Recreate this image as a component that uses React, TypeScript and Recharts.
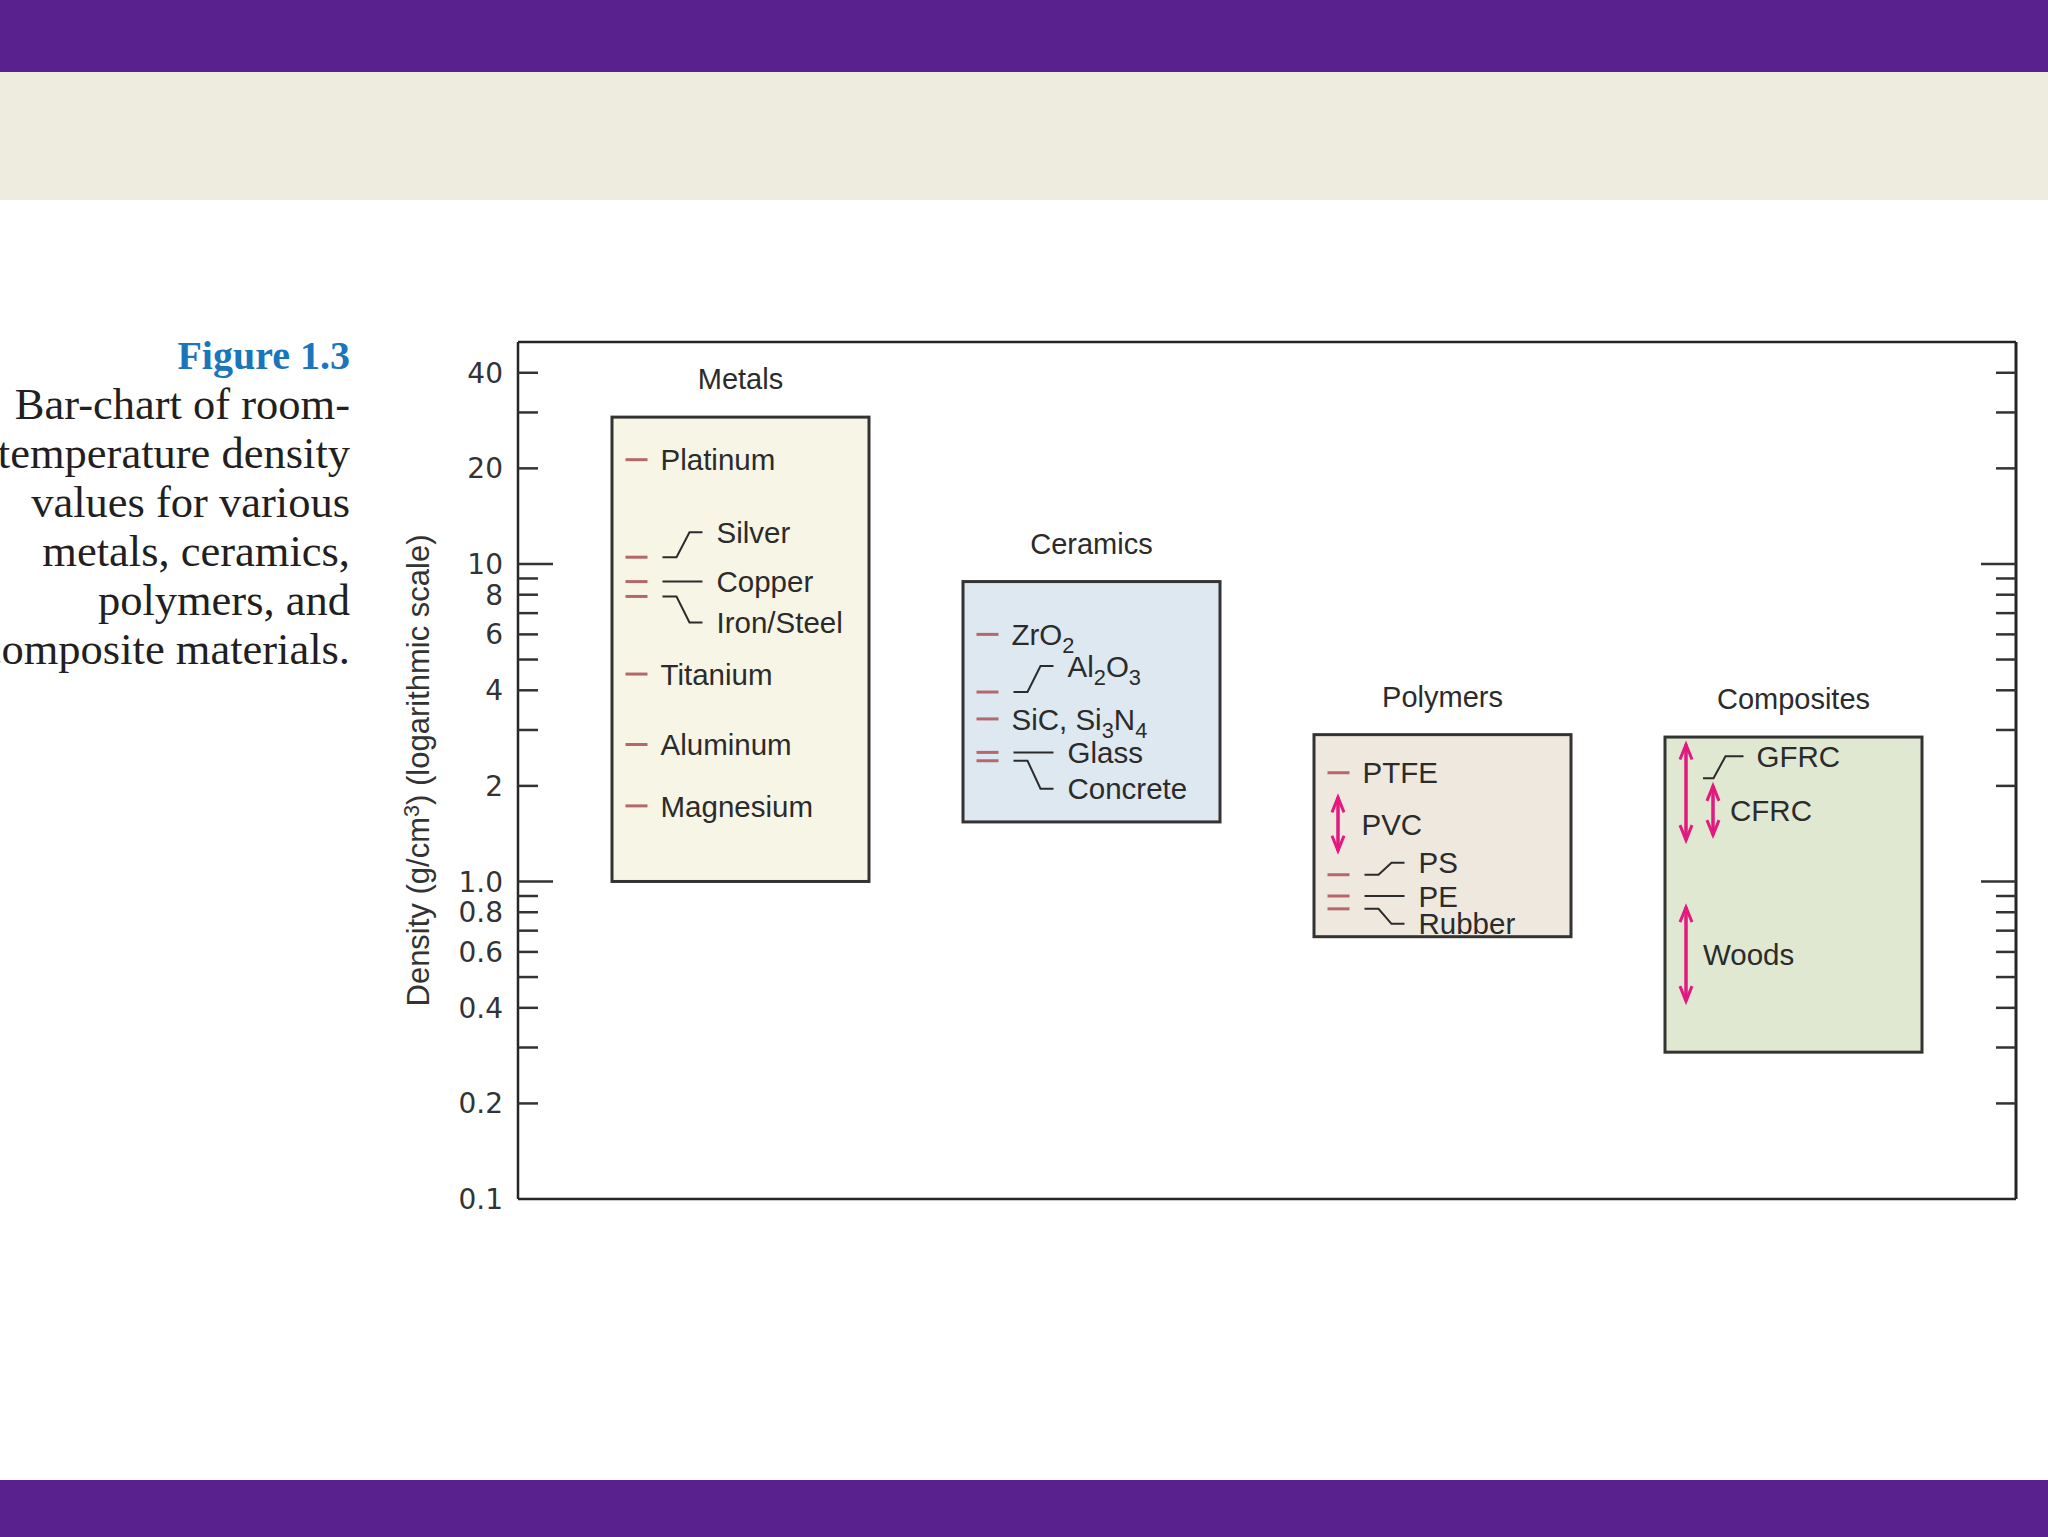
import React from 'react';
import { ComposedChart, Bar, Scatter, XAxis, YAxis, Label } from 'recharts';

// ---------------- data ----------------
const categories = ['Metals', 'Ceramics', 'Polymers', 'Composites'];
const boxLow = [1.0, 1.54, 0.67, 0.29];
const boxHigh = [29, 8.8, 2.9, 2.85];

const pointCategories = [
  'Metals', 'Metals', 'Metals', 'Metals', 'Metals', 'Metals', 'Metals',
  'Ceramics', 'Ceramics', 'Ceramics', 'Ceramics', 'Ceramics',
  'Polymers', 'Polymers', 'Polymers', 'Polymers',
];
const pointNames = [
  'Platinum', 'Silver', 'Copper', 'Iron/Steel', 'Titanium', 'Aluminum', 'Magnesium',
  'ZrO2', 'Al2O3', 'SiC, Si3N4', 'Glass', 'Concrete',
  'PTFE', 'PS', 'PE', 'Rubber',
];
const pointDensities = [
  21.3, 10.5, 8.8, 7.9, 4.5, 2.7, 1.73,
  6.0, 3.95, 3.25, 2.55, 2.4,
  2.2, 1.05, 0.9, 0.82,
];

const rangeCategories = ['Polymers', 'Composites', 'Composites', 'Composites'];
const rangeNames = ['PVC', 'GFRC', 'CFRC', 'Woods'];
const rangeLows = [1.25, 1.35, 1.4, 0.42];
const rangeHighs = [1.84, 2.7, 2.0, 0.83];

const yTicks = [0.1, 0.2, 0.3, 0.4, 0.5, 0.6, 0.7, 0.8, 0.9, 1, 2, 3, 4, 5, 6, 7, 8, 9, 10, 20, 30, 40];
const yTickLabels = ['0.1', '0.2', '', '0.4', '', '0.6', '', '0.8', '', '1.0', '2', '', '4', '', '6', '', '8', '', '10', '20', '', '40'];
const majorTicks = [1, 10];
const yDomain = [0.1, 50];

const captionTitle = 'Figure 1.3';
const captionLines = [
  'Bar-chart of room-',
  'temperature density',
  'values for various',
  'metals, ceramics,',
  'polymers, and',
  'composite materials.',
];

// ---------------- layout / style ----------------
const W = 2048;
const H = 1537;
const PLOT_LEFT = 518;
const PLOT_RIGHT = 2016;
const PLOT_TOP = 342;
const PLOT_BOTTOM = 1199;
const Y_AXIS_WIDTH = 200;
const EDGE_AXIS = 1; // thickness reserved by the frame-only axes
const CAT_PAD = 47;
const BAR_SIZE = 257;
const TICK_MARGIN = 15;

const BOX_FILLS: Record<string, string> = {
  Metals: '#f6f5e6',
  Ceramics: '#dee8f1',
  Polymers: '#efe8de',
  Composites: '#e0e8d2',
};
const INK = '#2b2b2b';
const FRAME = '#262626';
const DASH = '#b4686b';
const ARROW = '#e2197f';
const SANS = '"Liberation Sans", Arial, sans-serif';
const SERIF = '"Liberation Serif", "Times New Roman", serif';
const FS = 29.5;

// offsets relative to the category centre
const DASH_X = [-115, -93];
const SINGLE_LABEL_DX = -80;
const GROUP_LABEL_DX = -24;
const LEADER_X = [-78, -64, -51, -38];
const LEADER_DY: Record<string, number> = {
  Silver: -25, Copper: 0, 'Iron/Steel': 26,
  Al2O3: -26, Glass: 0, Concrete: 28,
  PS: -12, PE: 0, Rubber: 15,
};
const RANGE_LAYOUT: Record<string, any> = {
  PVC: { dx: -104.5, labelDx: -81, labelDy: 0 },
  GFRC: { dx: -107.5, labelDx: -37, labelDy: -36, leaderDy: -14, leaderX: [-90.5, -80, -68, -50] },
  CFRC: { dx: -80.5, labelDx: -63.5, labelDy: 0 },
  Woods: { dx: -107.5, labelDx: -90.5, labelDy: 0 },
};

const chartData = categories.map((c, i) => ({ category: c, range: [boxLow[i], boxHigh[i]] }));
const pointData = pointNames.map((n, i) => ({ category: pointCategories[i], name: n, density: pointDensities[i] }));

function Formula({ text, x, y, fontSize }: any) {
  const parts = text.split(/(\d+)/).filter((s: string) => s.length);
  const sub = fontSize * 0.27;
  let shifted = false;
  return (
    <text x={x} y={y} fontSize={fontSize} fontFamily={SANS} fill={INK}>
      {parts.map((p: string, i: number) => {
        const isNum = /^\d+$/.test(p);
        let dy = 0;
        if (isNum && !shifted) { dy = sub; shifted = true; }
        else if (!isNum && shifted) { dy = -sub; shifted = false; }
        return (
          <tspan key={i} dy={dy} fontSize={isNum ? fontSize * 0.74 : fontSize}>{p}</tspan>
        );
      })}
    </text>
  );
}

const BoxShape = (props: any) => {
  const { x, y, width, height, payload } = props;
  if (x == null || y == null) return <g />;
  return (
    <g>
      <rect x={x} y={y} width={width} height={height} fill={BOX_FILLS[payload.category]} stroke="#333" strokeWidth={3} />
      <text x={x + width / 2} y={y - 28} textAnchor="middle" fontSize={29} fontFamily={SANS} fill={INK}>
        {payload.category}
      </text>
    </g>
  );
};

const PointShape = (props: any) => {
  const { cx, cy, payload } = props;
  if (cx == null || cy == null) return <g />;
  const name = payload.name;
  const dy = LEADER_DY[name];
  const grouped = dy !== undefined;
  const lx = cx + (grouped ? GROUP_LABEL_DX : SINGLE_LABEL_DX);
  const ly = cy + (grouped ? dy : 0);
  const leader = grouped
    ? dy === 0
      ? `${cx + LEADER_X[0]},${cy} ${cx + LEADER_X[3]},${cy}`
      : `${cx + LEADER_X[0]},${cy} ${cx + LEADER_X[1]},${cy} ${cx + LEADER_X[2]},${cy + dy} ${cx + LEADER_X[3]},${cy + dy}`
    : null;
  return (
    <g>
      <line x1={cx + DASH_X[0]} x2={cx + DASH_X[1]} y1={cy} y2={cy} stroke={DASH} strokeWidth={3} />
      {leader && <polyline points={leader} fill="none" stroke={INK} strokeWidth={2} />}
      <Formula text={name} x={lx} y={ly + FS * 0.36} fontSize={FS} />
    </g>
  );
};

const makeArrowLine = (name: string) => (lineProps: any) => {
  const pts = (lineProps && lineProps.points) || [];
  if (pts.length < 2) return <g />;
  const cx = pts[0].x;
  const ys = pts.map((p: any) => p.y);
  const top = Math.min(...ys);
  const bot = Math.max(...ys);
  const mid = (top + bot) / 2;
  const L = RANGE_LAYOUT[name];
  const ax = cx + L.dx;
  const hw = 6;
  const hl = 15;
  let leader = null;
  if (L.leaderX) {
    const a = mid + L.leaderDy;
    const b = mid + L.labelDy;
    leader = `${cx + L.leaderX[0]},${a} ${cx + L.leaderX[1]},${a} ${cx + L.leaderX[2]},${b} ${cx + L.leaderX[3]},${b}`;
  }
  return (
    <g>
      <line x1={ax} x2={ax} y1={top} y2={bot} stroke={ARROW} strokeWidth={3.5} />
      <polyline points={`${ax - hw},${top + hl} ${ax},${top} ${ax + hw},${top + hl}`} fill="none" stroke={ARROW} strokeWidth={3} />
      <polyline points={`${ax - hw},${bot - hl} ${ax},${bot} ${ax + hw},${bot - hl}`} fill="none" stroke={ARROW} strokeWidth={3} />
      {leader && <polyline points={leader} fill="none" stroke={INK} strokeWidth={2} />}
      <Formula text={name} x={cx + L.labelDx} y={mid + L.labelDy + FS * 0.36} fontSize={FS} />
    </g>
  );
};

const LeftTick = (props: any) => {
  const { x, y, payload } = props;
  const v = payload.value;
  const idx = yTicks.indexOf(v);
  const label = idx >= 0 ? yTickLabels[idx] : '';
  const axisX = x + TICK_MARGIN;
  const len = majorTicks.includes(v) ? 35 : 20;
  return (
    <g>
      {v > yDomain[0] && <line x1={axisX} x2={axisX + len} y1={y} y2={y} stroke="#333" strokeWidth={2.5} />}
      {label && (
        <text x={x} y={y} dy="0.36em" textAnchor="end" fontSize={28} fontFamily='"DejaVu Sans", sans-serif' fill="#333">
          {label}
        </text>
      )}
    </g>
  );
};

const RightTick = (props: any) => {
  const { x, y, payload } = props;
  const v = payload.value;
  if (!(v > yDomain[0])) return <g />;
  const len = majorTicks.includes(v) ? 35 : 20;
  return <line x1={x} x2={x - len} y1={y} y2={y} stroke="#333" strokeWidth={2.5} />;
};

const YTitle = (props: any) => {
  const vb = props.viewBox || {};
  const cx = vb.x + vb.width / 2;
  const cy = vb.y + vb.height / 2;
  const fs = 31;
  return (
    <text
      x={cx}
      y={cy + fs * 0.36}
      transform={`rotate(-90, ${cx}, ${cy})`}
      textAnchor="middle"
      fontSize={fs}
      fontFamily={SANS}
      fill="#333"
    >
      <tspan>Density (g/cm</tspan>
      <tspan dy={-10} fontSize={fs * 0.7}>3</tspan>
      <tspan dy={10}>) (logarithmic scale)</tspan>
    </text>
  );
};

export default function App() {
  return (
    <div style={{ position: 'absolute', left: 0, top: 0, width: W, height: H, background: '#ffffff', overflow: 'hidden' }}>
      <div style={{ position: 'absolute', left: 0, top: 0, width: W, height: 72, background: '#58218e' }} />
      <div style={{ position: 'absolute', left: 0, top: 72, width: W, height: 128, background: '#eeebdf' }} />
      <div style={{ position: 'absolute', left: 0, top: 1480, width: W, height: H - 1480, background: '#58218e' }} />

      <div
        style={{
          position: 'absolute',
          left: 350 - 700,
          top: 331,
          width: 700,
          textAlign: 'right',
          whiteSpace: 'nowrap',
          fontFamily: SERIF,
          color: '#231f20',
        }}
      >
        <div style={{ fontSize: 40, lineHeight: '49px', fontWeight: 'bold', color: '#1b75bb' }}>{captionTitle}</div>
        {captionLines.map((l) => (
          <div key={l} style={{ fontSize: 44.5, lineHeight: '49px' }}>{l}</div>
        ))}
      </div>

      <div style={{ position: 'absolute', left: 0, top: 0 }}>
        <ComposedChart
          width={W}
          height={H}
          data={chartData}
          margin={{
            top: PLOT_TOP - EDGE_AXIS,
            right: W - PLOT_RIGHT - EDGE_AXIS,
            bottom: H - PLOT_BOTTOM - EDGE_AXIS,
            left: PLOT_LEFT - Y_AXIS_WIDTH,
          }}
        >
          <XAxis
            xAxisId="bottom"
            dataKey="category"
            type="category"
            allowDuplicatedCategory={false}
            padding={{ left: CAT_PAD, right: CAT_PAD }}
            height={EDGE_AXIS}
            tick={false}
            tickLine={false}
            axisLine={{ stroke: FRAME, strokeWidth: 2.5 }}
          />
          <XAxis
            xAxisId="top"
            orientation="top"
            dataKey="category"
            type="category"
            allowDuplicatedCategory={false}
            padding={{ left: CAT_PAD, right: CAT_PAD }}
            height={EDGE_AXIS}
            tick={false}
            tickLine={false}
            axisLine={{ stroke: FRAME, strokeWidth: 2.5 }}
          />
          <YAxis
            yAxisId="left"
            type="number"
            scale="log"
            domain={yDomain}
            allowDataOverflow
            ticks={yTicks}
            interval={0}
            width={Y_AXIS_WIDTH}
            tickSize={0}
            tickMargin={TICK_MARGIN}
            tickLine={false}
            tick={<LeftTick />}
            axisLine={{ stroke: FRAME, strokeWidth: 2.5 }}
          >
            <Label content={<YTitle />} />
          </YAxis>
          <YAxis
            yAxisId="right"
            orientation="right"
            type="number"
            scale="log"
            domain={yDomain}
            allowDataOverflow
            ticks={yTicks}
            interval={0}
            width={EDGE_AXIS}
            tickSize={0}
            tickMargin={0}
            tickLine={false}
            tick={<RightTick />}
            axisLine={{ stroke: FRAME, strokeWidth: 3 }}
          />
          <Bar
            xAxisId="bottom"
            yAxisId="left"
            dataKey="range"
            barSize={BAR_SIZE}
            shape={<BoxShape />}
            isAnimationActive={false}
          />
          <Scatter
            xAxisId="bottom"
            yAxisId="left"
            dataKey="density"
            data={pointData}
            shape={<PointShape />}
            isAnimationActive={false}
          />
          {rangeNames.map((n, i) => (
            <Scatter
              key={n}
              xAxisId="bottom"
              yAxisId="left"
              dataKey="density"
              data={[
                { category: rangeCategories[i], density: rangeLows[i] },
                { category: rangeCategories[i], density: rangeHighs[i] },
              ]}
              shape={() => <g />}
              line={makeArrowLine(n)}
              lineType="joint"
              isAnimationActive={false}
            />
          ))}
        </ComposedChart>
      </div>
    </div>
  );
}
